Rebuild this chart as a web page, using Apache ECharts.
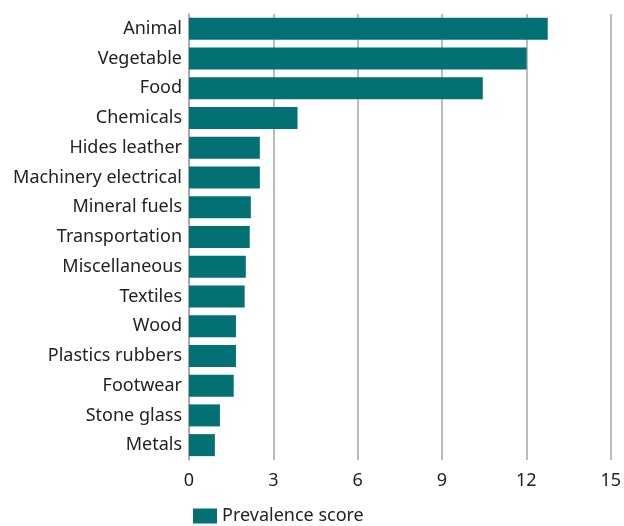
<!DOCTYPE html>
<html>
<head>
<meta charset="utf-8">
<script src="https://cdn.jsdelivr.net/npm/echarts@6/dist/echarts.min.js"></script>
<style>
  html, body { margin: 0; padding: 0; background: #fff; }
  #chart { width: 624px; height: 526px; }
</style>
</head>
<body>
<div id="chart"></div>
<script>
  // categories top to bottom as in the picture
  const categories = ['Animal', 'Vegetable', 'Food', 'Chemicals', 'Hides leather',
    'Machinery electrical', 'Mineral fuels', 'Transportation', 'Miscellaneous',
    'Textiles', 'Wood', 'Plastics rubbers', 'Footwear', 'Stone glass', 'Metals']
  const prevalence = [12.76, 12.01, 10.45, 3.86, 2.52, 2.52, 2.2, 2.16, 2.02,
    1.98, 1.67, 1.67, 1.59, 1.1, 0.92]
  const xTicks = [0, 3, 6, 9, 12, 15]

  const font = 'Noto Sans'
  let chart = echarts.init(document.getElementById('chart'))
  chart.setOption({
    animation: false,
    grid: { left: 189, right: 11, top: 14, bottom: 66, containLabel: false },
    legend: {
      left: 188, bottom: -4,
      icon: 'rect',
      itemWidth: 24, itemHeight: 15,
      textStyle: { fontFamily: font, fontSize: 18, color: '#222' },
      data: ['Prevalence score']
    },
    xAxis: {
      type: 'value',
      min: xTicks[0], max: xTicks[xTicks.length - 1], interval: 3,
      axisLine: { show: false },
      axisTick: { show: false },
      splitLine: { show: true, lineStyle: { color: '#a6a6a6', width: 1.5 } },
      axisLabel: { fontFamily: font, fontSize: 18, color: '#222', margin: 12 }
    },
    yAxis: {
      type: 'category',
      inverse: true,
      data: categories,
      axisLine: { show: true, lineStyle: { color: '#a6a6a6', width: 1.5 } },
      axisTick: { show: false },
      axisLabel: { fontFamily: font, fontSize: 18, color: '#222', margin: 7 }
    },
    series: [{
      name: 'Prevalence score',
      type: 'bar',
      data: prevalence,
      barCategoryGap: '26%',
      itemStyle: { color: '#037073' }
    }]
  })
</script>
</body>
</html>
